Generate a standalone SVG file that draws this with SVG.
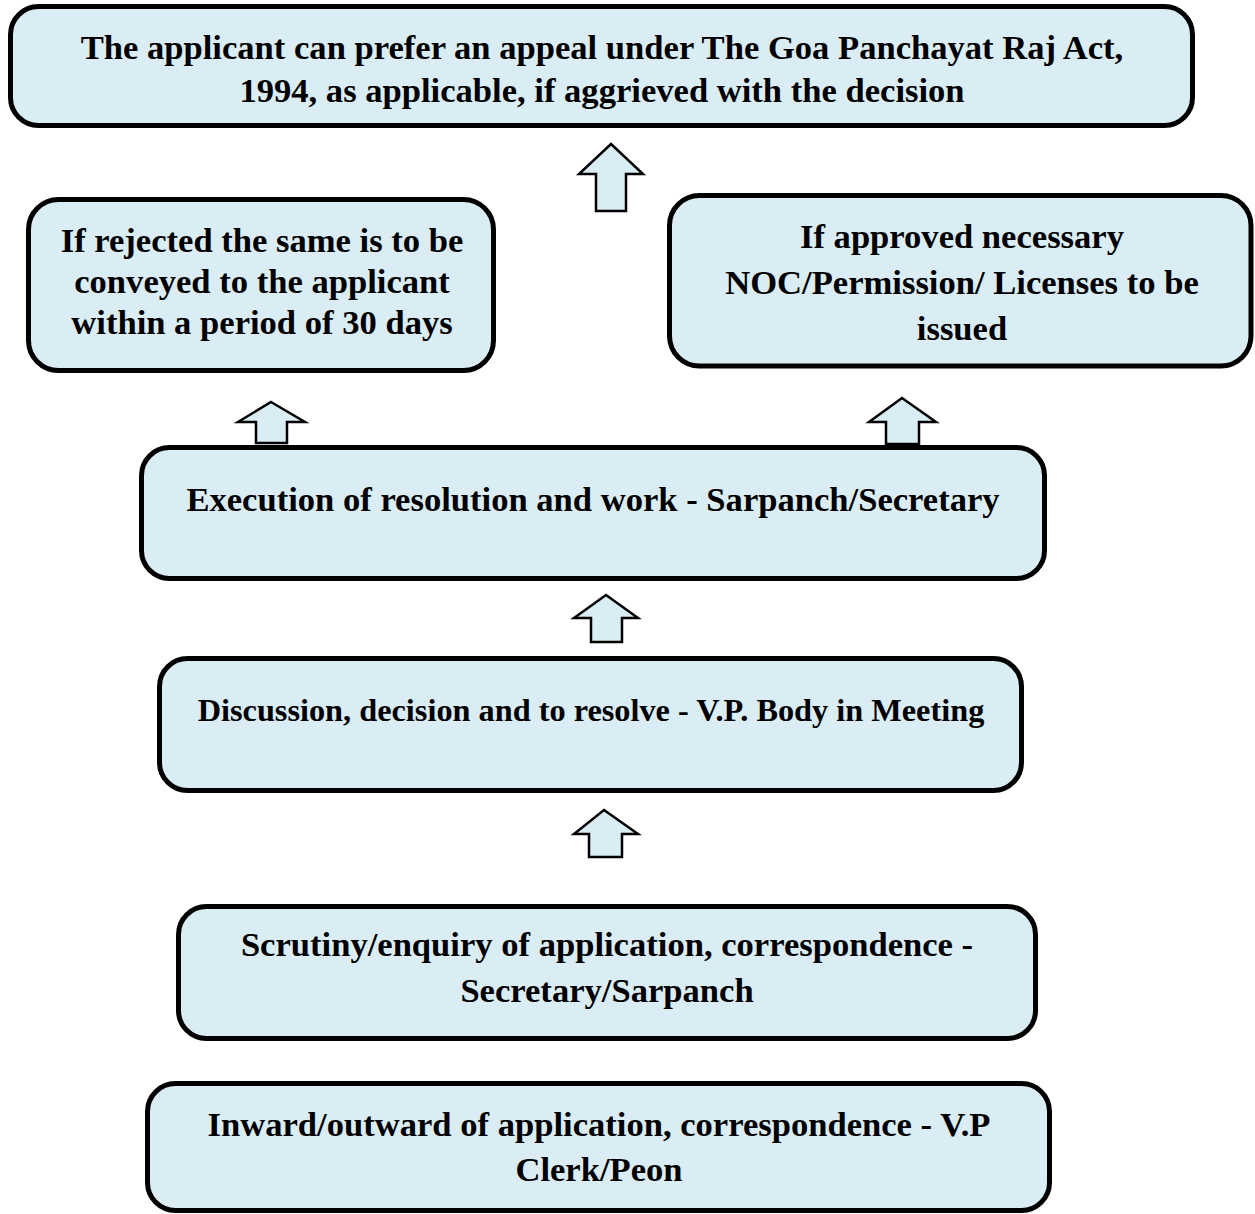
<svg xmlns="http://www.w3.org/2000/svg" width="1255" height="1214" viewBox="0 0 1255 1214">
<style>
.box{fill:#daedf4;stroke:#000;stroke-width:5}
.arr{fill:#daedf4;stroke:#000;stroke-width:2.5;stroke-linejoin:miter}
text{font-family:"Liberation Serif","Times New Roman",serif;font-weight:bold;font-size:34.6px;fill:#000;text-anchor:middle}
</style>
<rect width="1255" height="1214" fill="#fff"/>
<g id="n1"><rect class="box" x="10.5" y="6.5" width="1182" height="119" rx="28"/>
<text x="602" y="59">The applicant can prefer an appeal under The Goa Panchayat Raj Act,</text>
<text x="602" y="102">1994, as applicable, if aggrieved with the decision</text></g>
<g id="n2"><rect class="box" x="28.5" y="199.5" width="465" height="171" rx="30"/>
<text x="262" y="252">If rejected the same is to be</text>
<text x="262" y="293">conveyed to the applicant</text>
<text x="262" y="334">within a period of 30 days</text></g>
<g id="n3"><rect class="box" x="669.5" y="195.5" width="581.5" height="170.5" rx="30"/>
<text x="962" y="248">If approved necessary</text>
<text x="962" y="294">NOC/Permission/ Licenses to be</text>
<text x="962" y="340">issued</text></g>
<g id="n4"><rect class="box" x="141.5" y="447.5" width="903" height="131" rx="28"/>
<text x="593" y="511">Execution of resolution and work - Sarpanch/Secretary</text></g>
<g id="n5"><rect class="box" x="159.5" y="658.5" width="862" height="132" rx="28"/>
<text x="591" y="721" style="font-size:32.3px">Discussion, decision and to resolve - V.P. Body in Meeting</text></g>
<g id="n6"><rect class="box" x="178.5" y="906.5" width="857" height="132" rx="28"/>
<text x="607" y="956">Scrutiny/enquiry of application, correspondence -</text>
<text x="607" y="1002">Secretary/Sarpanch</text></g>
<g id="n7"><rect class="box" x="147.5" y="1083.5" width="902" height="127" rx="28"/>
<text x="599" y="1136">Inward/outward of application, correspondence - V.P</text>
<text x="599" y="1181">Clerk/Peon</text></g>
<g id="connectors">
<polygon class="arr" points="611,144 643,174 626,174 626,211 596,211 596,174 579,174"/>
<polygon class="arr" points="271,402 305,422 287,422 287,443 256,443 256,422 238,422"/>
<polygon class="arr" points="902,398 936,422 919,422 919,444 886,444 886,422 869,422"/>
<polygon class="arr" points="606,595 638,618 622,618 622,642 591,642 591,618 574,618"/>
<polygon class="arr" points="604,810 638,834 622,834 622,857 589,857 589,834 574,834"/>
</g>
</svg>
